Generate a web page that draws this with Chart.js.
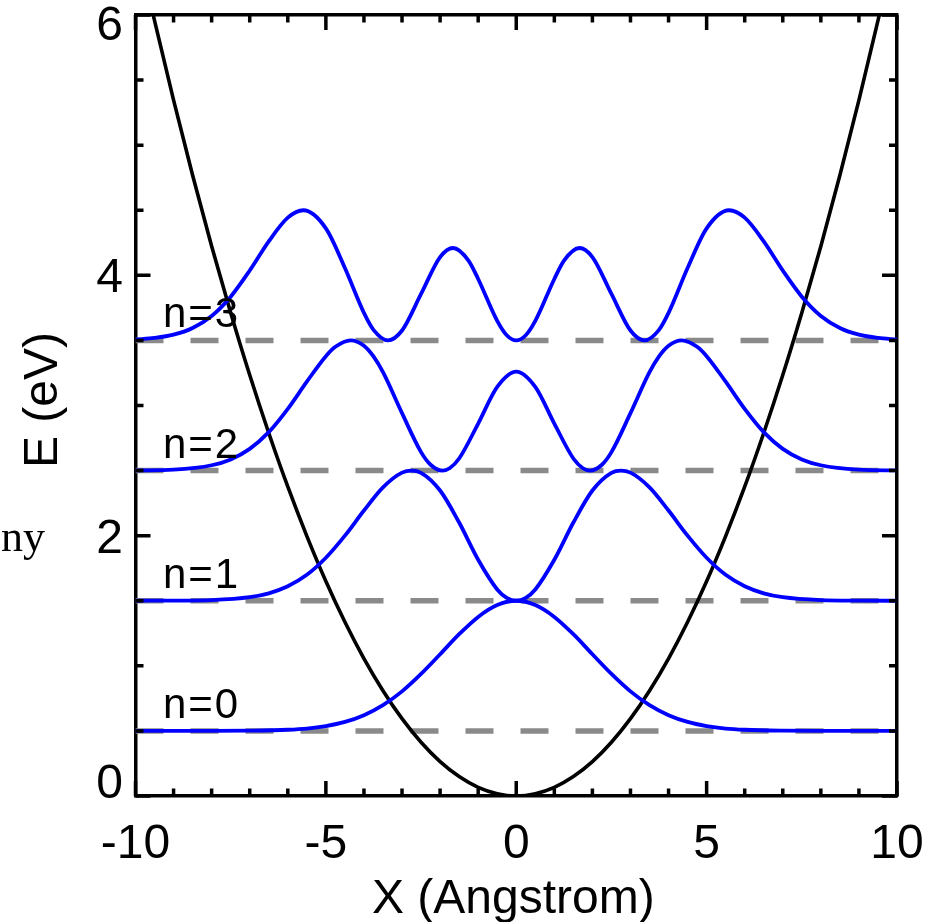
<!DOCTYPE html>
<html>
<head>
<meta charset="utf-8">
<script src="https://cdn.jsdelivr.net/npm/chart.js@4.4.0/dist/chart.umd.min.js"></script>
<style>
html, body { margin: 0; padding: 0; background: #fff; }
#wrap { width: 943px; height: 922px; }
</style>
</head>
<body>
<div id="wrap"><canvas id="chart" width="943" height="922"></canvas></div>
<script>
// energy levels (eV) and their labels
var levels = [0.5, 1.5, 2.5, 3.5];
var levelLabels = ['n=0', 'n=1', 'n=2', 'n=3'];
var xTickValues = [-10, -5, 0, 5, 10];
var xTickLabels = ['-10', '-5', '0', '5', '10'];
var yTickValues = [0, 2, 4, 6];
var yTickLabels = ['0', '2', '4', '6'];

// potential well V(x)
var potX = [-10, -9.5, -9, -8.5, -8, -7.5, -7, -6.5, -6, -5.5, -5, -4.5, -4, -3.5, -3, -2.5, -2, -1.5, -1, -0.5,
    0, 0.5, 1, 1.5, 2, 2.5, 3, 3.5, 4, 4.5, 5, 5.5, 6, 6.5, 7, 7.5, 8, 8.5, 9, 9.5, 10];
var potY = [6.6, 5.957, 5.346, 4.769, 4.224, 3.713, 3.234, 2.789, 2.376, 1.997, 1.65, 1.337, 1.056, 0.809, 0.594, 0.413, 0.264, 0.149, 0.066, 0.017,
    0, 0.017, 0.066, 0.149, 0.264, 0.413, 0.594, 0.809, 1.056, 1.337, 1.65, 1.997, 2.376, 2.789, 3.234, 3.713, 4.224, 4.769, 5.346, 5.957, 6.6];

// |psi_n|^2 drawn on top of each level
var psi0X = [-10, -8, -7, -6, -5.5, -5, -4.5, -4, -3.5, -3, -2.5, -2, -1.5, -1, -0.5,
    0, 0.5, 1, 1.5, 2, 2.5, 3, 3.5, 4, 4.5, 5, 5.5, 6, 7, 8, 10];
var psi0Y = [0.5, 0.5, 0.502, 0.509, 0.518, 0.537, 0.569, 0.621, 0.698, 0.804, 0.938, 1.089, 1.243, 1.376, 1.467,
    1.5, 1.467, 1.376, 1.243, 1.089, 0.938, 0.804, 0.698, 0.621, 0.569, 0.537, 0.518, 0.509, 0.502, 0.5, 0.5];

var psi1X = [-10, -9, -8, -7, -6.5, -6, -5.5, -5, -4.5, -4, -3.5, -3, -2.75, -2.5, -2, -1.5, -1, -0.5, -0.25,
    0, 0.25, 0.5, 1, 1.5, 2, 2.5, 2.75, 3, 3.5, 4, 4.5, 5, 5.5, 6, 6.5, 7, 8, 9, 10];
var psi1Y = [1.5, 1.501, 1.505, 1.527, 1.557, 1.611, 1.699, 1.83, 2.0, 2.193, 2.371, 2.484, 2.5, 2.483, 2.347, 2.101, 1.815, 1.587, 1.522,
    1.5, 1.522, 1.587, 1.815, 2.101, 2.347, 2.483, 2.5, 2.484, 2.371, 2.193, 2.0, 1.83, 1.699, 1.611, 1.557, 1.527, 1.505, 1.501, 1.5];

var psi2X = [-10, -9, -8, -7.5, -7, -6.5, -6, -5.5, -5, -4.75, -4.35, -4, -3.75, -3.5, -3, -2.5, -2.25, -1.94, -1.75, -1.5, -1, -0.5,
    0, 0.5, 1, 1.5, 1.75, 1.94, 2.25, 2.5, 3, 3.5, 3.75, 4, 4.35, 4.75, 5, 5.5, 6, 6.5, 7, 7.5, 8, 9, 10];
var psi2Y = [2.501, 2.507, 2.541, 2.586, 2.667, 2.795, 2.974, 3.183, 3.379, 3.451, 3.5, 3.459, 3.377, 3.256, 2.941, 2.642, 2.545, 2.5, 2.518, 2.593, 2.861, 3.143,
    3.261, 3.143, 2.861, 2.593, 2.518, 2.5, 2.545, 2.642, 2.941, 3.256, 3.377, 3.459, 3.5, 3.451, 3.379, 3.183, 2.974, 2.795, 2.667, 2.586, 2.541, 2.507, 2.501];

var psi3X = [-10, -9.5, -9, -8.5, -8, -7.5, -7, -6.5, -6, -5.59, -5, -4.5, -4, -3.75, -3.37, -3, -2.5, -2, -1.66, -1.25, -1, -0.5, -0.25,
    0, 0.25, 0.5, 1, 1.25, 1.66, 2, 2.5, 3, 3.37, 3.75, 4, 4.5, 5, 5.59, 6, 6.5, 7, 7.5, 8, 8.5, 9, 9.5, 10];
var psi3Y = [3.507, 3.519, 3.544, 3.596, 3.688, 3.836, 4.037, 4.261, 4.443, 4.5, 4.361, 4.056, 3.711, 3.581, 3.5, 3.576, 3.857, 4.14, 4.21, 4.112, 3.972, 3.65, 3.54,
    3.5, 3.54, 3.65, 3.972, 4.112, 4.21, 4.14, 3.857, 3.576, 3.5, 3.581, 3.711, 4.056, 4.361, 4.5, 4.443, 4.261, 4.037, 3.836, 3.688, 3.596, 3.544, 3.519, 3.507];

var FONT = '"Liberation Sans", Arial, Helvetica, sans-serif';
var BLUE = '#0000ff';
var GREY = '#8a8a8a';

function toPoints(xs, ys) {
    return xs.map(function (x, i) { return { x: x, y: ys[i] }; });
}

function curve(xs, ys, color, width) {
    return {
        data: toPoints(xs, ys),
        borderColor: color,
        borderWidth: width,
        pointRadius: 0,
        fill: false,
        cubicInterpolationMode: 'monotone'
    };
}

function levelLine(e) {
    return {
        data: [{ x: -10, y: e }, { x: 10, y: e }],
        borderColor: GREY,
        borderWidth: 5.5,
        borderDash: [28, 27],
        borderCapStyle: 'butt',
        pointRadius: 0,
        fill: false
    };
}

// inward ticks on all four sides, tick labels, titles and level labels
var axisDecor = {
    id: 'axisDecor',
    afterDraw: function (chart) {
        var ctx = chart.ctx;
        var a = chart.chartArea;
        var xs = chart.scales.x;
        var ys = chart.scales.y;
        ctx.save();
        ctx.strokeStyle = '#000';
        ctx.lineWidth = 3.5;
        ctx.lineCap = 'butt';
        ctx.beginPath();
        for (var v = -10; v <= 10; v++) {
            var px = xs.getPixelForValue(v);
            var len = (v % 5 === 0) ? 15 : 7.5;
            ctx.moveTo(px, a.bottom); ctx.lineTo(px, a.bottom - len);
            ctx.moveTo(px, a.top); ctx.lineTo(px, a.top + len);
        }
        for (var k = 0; k <= 12; k++) {
            var py = ys.getPixelForValue(k * 0.5);
            var l2 = (k % 4 === 0) ? 15 : 8;
            ctx.moveTo(a.left, py); ctx.lineTo(a.left + l2, py);
            ctx.moveTo(a.right, py); ctx.lineTo(a.right - l2, py);
        }
        ctx.stroke();

        ctx.fillStyle = '#000';
        ctx.font = '48px ' + FONT;
        ctx.textBaseline = 'alphabetic';
        ctx.textAlign = 'center';
        xTickValues.forEach(function (v, i) {
            ctx.fillText(xTickLabels[i], xs.getPixelForValue(v), a.bottom + 62);
        });
        ctx.textAlign = 'right';
        yTickValues.forEach(function (v, i) {
            var base = ys.getPixelForValue(v) + 17;
            base = Math.min(Math.max(base, a.top + 25), a.bottom + 2);
            ctx.fillText(yTickLabels[i], a.left - 12.5, base);
        });

        ctx.textAlign = 'center';
        ctx.fillText('X (Angstrom)', (a.left + a.right) / 2 - 3, 913);
        ctx.save();
        ctx.translate(57, 400);
        ctx.rotate(-Math.PI / 2);
        ctx.fillText('E (eV)', 0, 0);
        ctx.restore();

        ctx.font = '44px "Liberation Serif", "Times New Roman", serif';
        ctx.textAlign = 'right';
        ctx.fillText('ny', 45, 551);

        ctx.font = '42px ' + FONT;
        ctx.textAlign = 'left';
        ctx.letterSpacing = '2px';
        levels.forEach(function (e, i) {
            ctx.fillText(levelLabels[i], xs.getPixelForValue(-9.28), ys.getPixelForValue(e + 0.1));
        });
        ctx.restore();
    }
};

var datasets = [
    curve(psi0X, psi0Y, BLUE, 3.8),
    curve(psi1X, psi1Y, BLUE, 3.8),
    curve(psi2X, psi2Y, BLUE, 3.8),
    curve(psi3X, psi3Y, BLUE, 3.8),
    curve(potX, potY, '#000', 3.6)
];
levels.forEach(function (e) { datasets.push(levelLine(e)); });

var axisBorder = { display: true, width: 3.5, color: '#000' };

new Chart(document.getElementById('chart').getContext('2d'), {
    type: 'line',
    data: { datasets: datasets },
    options: {
        responsive: false,
        animation: false,
        events: [],
        layout: { padding: { left: 135.5, right: 46, top: 15, bottom: 126 } },
        plugins: { legend: { display: false }, tooltip: { enabled: false } },
        scales: {
            x: { type: 'linear', position: 'bottom', min: -10, max: 10,
                grid: { display: false, drawTicks: false }, border: axisBorder, ticks: { display: false } },
            x2: { type: 'linear', position: 'top', min: -10, max: 10,
                grid: { display: false, drawTicks: false }, border: axisBorder, ticks: { display: false } },
            y: { type: 'linear', position: 'left', min: 0, max: 6,
                grid: { display: false, drawTicks: false }, border: axisBorder, ticks: { display: false } },
            y2: { type: 'linear', position: 'right', min: 0, max: 6,
                grid: { display: false, drawTicks: false }, border: axisBorder, ticks: { display: false } }
        }
    },
    plugins: [axisDecor]
});
</script>
</body>
</html>
